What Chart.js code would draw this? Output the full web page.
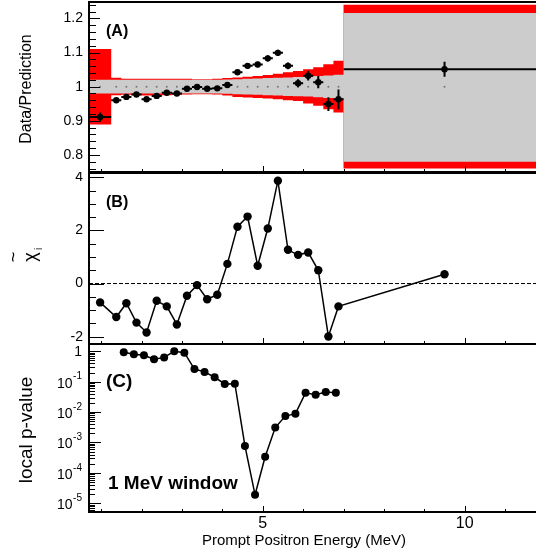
<!DOCTYPE html>
<html>
<head>
<meta charset="utf-8">
<script src="https://cdn.jsdelivr.net/npm/chart.js@4.4.1/dist/chart.umd.min.js"></script>
<style>
  html, body { margin: 0; padding: 0; background: #fff; }
  #wrap { position: relative; width: 536px; height: 558px; overflow: hidden; }
  canvas { position: absolute; left: 0; }
</style>
</head>
<body>
<div id="wrap">
  <canvas id="chartA" width="536" height="174" style="top:0px"></canvas>
  <canvas id="chartB" width="536" height="174" style="top:172px"></canvas>
  <canvas id="chartC" width="536" height="214" style="top:344px"></canvas>
</div>
<script>
// bins of the prompt energy spectrum (MeV)
const binEdges = [0.7, 1.25, 1.5, 1.75, 2.0, 2.25, 2.5, 2.75, 3.0, 3.25, 3.5, 3.75, 4.0, 4.25,
  4.5, 4.75, 5.0, 5.25, 5.5, 5.75, 6.0, 6.25, 6.5, 6.75, 7.0, 12.0];
const energyA = [0.975, 1.375, 1.625, 1.875, 2.125, 2.375, 2.625, 2.875, 3.125, 3.375, 3.625, 3.875,
  4.125, 4.375, 4.625, 4.875, 5.125, 5.375, 5.625, 5.875, 6.125, 6.375, 6.625, 6.875, 9.5];

// (A) data / prediction
const ratioA = [0.911, 0.960, 0.970, 0.977, 0.963, 0.973, 0.982, 0.980, 0.994, 0.999, 0.994, 0.995,
  1.005, 1.042, 1.061, 1.065, 1.083, 1.099, 1.061, 1.010, 1.032, 1.013, 0.949, 0.963, 1.051];
const ratioErrA = [0.013, 0.007, 0.006, 0.006, 0.006, 0.006, 0.006, 0.006, 0.006, 0.006, 0.006, 0.007,
  0.007, 0.008, 0.008, 0.008, 0.009, 0.009, 0.010, 0.012, 0.014, 0.018, 0.020, 0.029, 0.022];
const redHi = [1.110, 1.026, 1.023, 1.023, 1.023, 1.023, 1.023, 1.023, 1.023, 1.022, 1.022, 1.023,
  1.025, 1.027, 1.029, 1.031, 1.034, 1.038, 1.042, 1.046, 1.051, 1.057, 1.066, 1.076, 1.240];
const redLo = [0.889, 0.975, 0.976, 0.975, 0.974, 0.974, 0.975, 0.976, 0.977, 0.978, 0.978, 0.977,
  0.974, 0.970, 0.968, 0.967, 0.965, 0.963, 0.960, 0.958, 0.951, 0.944, 0.934, 0.924, 0.760];
const grayHi = [1.020, 1.020, 1.020, 1.020, 1.020, 1.020, 1.020, 1.020, 1.020, 1.020, 1.020, 1.020,
  1.021, 1.022, 1.023, 1.024, 1.025, 1.026, 1.027, 1.028, 1.029, 1.031, 1.033, 1.035, 1.216];
const grayLo = [0.980, 0.980, 0.980, 0.980, 0.980, 0.980, 0.980, 0.980, 0.980, 0.980, 0.980, 0.980,
  0.979, 0.978, 0.977, 0.976, 0.975, 0.974, 0.973, 0.972, 0.971, 0.969, 0.967, 0.965, 0.780];

// (B) chi tilde
const chiTilde = [-0.71, -1.26, -0.74, -1.47, -1.84, -0.65, -0.86, -1.54, -0.46, -0.06, -0.59, -0.42,
  0.74, 2.14, 2.52, 0.67, 2.07, 3.87, 1.27, 1.08, 1.17, 0.50, -1.99, -0.86, 0.35];

// (C) local p-value, 1 MeV sliding window
const energyC = [1.56, 1.81, 2.06, 2.31, 2.56, 2.81, 3.06, 3.31, 3.56, 3.81, 4.06, 4.31,
  4.56, 4.81, 5.06, 5.31, 5.56, 5.81, 6.06, 6.31, 6.56, 6.81];
const pValue = [0.93, 0.80, 0.74, 0.55, 0.63, 1.0, 0.90, 0.26, 0.21, 0.14, 0.084, 0.086,
  7.7e-4, 1.9e-5, 3.4e-4, 3.1e-3, 7.4e-3, 8.9e-3, 0.043, 0.037, 0.046, 0.043];

// ticks
const xMajorTicks = [5, 10];
const xMinorTicks = [1, 2, 3, 4, 6, 7, 8, 9, 11];
const yTicksA = [0.8, 0.9, 1, 1.1, 1.2];
const yTicksB = [-2, 0, 2, 4];
const yTicksC = [1, 1e-1, 1e-2, 1e-3, 1e-4, 1e-5];

const FONT = '"Liberation Sans", Arial, Helvetica, sans-serif';
const X_MIN = 0.7, X_MAX = 11.764;

function bandData(vals) {
  const pts = vals.map((v, i) => ({ x: binEdges[i], y: v }));
  pts.push({ x: binEdges[binEdges.length - 1], y: vals[vals.length - 1] });
  return pts;
}

function range(from, to, step) {
  const out = [];
  for (let v = from; v <= to + 1e-9; v += step) out.push(+v.toFixed(4));
  return out;
}

function logMinor() {
  const out = [];
  for (let k = -6; k <= 0; k++) for (let m = 2; m <= 9; m++) out.push(m * Math.pow(10, k));
  return out;
}

// keep the axis box from shrinking the plot area
function fixWidth(s) {
  s.width = 89;
  s.paddingTop = 0; s.paddingBottom = 0; s.paddingLeft = 0; s.paddingRight = 0;
}

// inward ROOT-style ticks, frame and free text
const panelDecor = {
  id: "panelDecor",
  afterDraw(chart, args, o) {
    if (!o || !o.yMajor) return;
    const { ctx, chartArea: a } = chart;
    const xs = chart.scales.x, ys = chart.scales.y;
    ctx.save();
    ctx.strokeStyle = "#000";
    ctx.lineWidth = 1;
    ctx.beginPath();
    const yTick = (v, len) => {
      const p = Math.round(ys.getPixelForValue(v)) + 0.5;
      if (p < a.top || p > a.bottom) return;
      ctx.moveTo(a.left, p); ctx.lineTo(a.left + len, p);
    };
    const xTick = (v, len) => {
      const p = Math.round(xs.getPixelForValue(v)) + 0.5;
      if (p < a.left || p > a.right) return;
      ctx.moveTo(p, a.bottom); ctx.lineTo(p, a.bottom - len);
    };
    o.yMajor.forEach(v => yTick(v, o.majorLen));
    o.yMinor.forEach(v => yTick(v, o.minorLen));
    xMajorTicks.forEach(v => xTick(v, 6));
    xMinorTicks.forEach(v => xTick(v, 3));
    ctx.stroke();

    ctx.lineWidth = 2;
    ctx.beginPath();
    ctx.moveTo(a.right + 2, a.top);
    ctx.lineTo(a.left, a.top);
    ctx.lineTo(a.left, a.bottom);
    ctx.lineTo(a.right + 2, a.bottom);
    ctx.stroke();

    ctx.fillStyle = "#000";
    if (o.logLabels) {
      ctx.textAlign = "right";
      ctx.textBaseline = "middle";
      yTicksC.forEach(v => {
        const p = ys.getPixelForValue(v);
        const k = Math.round(Math.log10(v));
        if (k === 0) {
          ctx.font = `14px ${FONT}`;
          ctx.fillText("1", 82, p + 1);
        } else {
          ctx.font = `10px ${FONT}`;
          const exp = String(k);
          ctx.fillText(exp, 82, p - 5);
          const w = ctx.measureText(exp).width;
          ctx.font = `14px ${FONT}`;
          ctx.fillText("10", 82 - w - 0.5, p + 2);
        }
      });
    }

    (o.texts || []).forEach(t => {
      ctx.save();
      ctx.translate(t.x, t.y);
      if (t.rot) ctx.rotate(t.rot);
      ctx.font = `${t.bold ? "bold " : ""}${t.size}px ${FONT}`;
      ctx.textAlign = t.align || "left";
      ctx.textBaseline = "middle";
      ctx.fillText(t.text, 0, 0);
      ctx.restore();
    });
    if (o.chiLabel) {
      ctx.save();
      ctx.translate(31, 85);
      ctx.rotate(-Math.PI / 2);
      ctx.textAlign = "center";
      ctx.textBaseline = "middle";
      ctx.font = `18px ${FONT}`;
      ctx.fillText("\u03c7", 0, 0);
      ctx.fillText("~", 0, -17);
      ctx.font = `10px ${FONT}`;
      ctx.fillText("i", 8, 8);
      ctx.restore();
    }
    ctx.restore();
  }
};
Chart.register(panelDecor);

function yAxis(min, max, extra) {
  return Object.assign({
    type: "linear", min, max,
    afterFit: fixWidth,
    grid: { display: false, drawTicks: false },
    border: { display: false },
    ticks: { padding: 6, color: "#000", font: { family: FONT, size: 14 } }
  }, extra);
}

function baseOptions(yScale, decor, padding, xScale) {
  return {
    responsive: false,
    animation: false,
    events: [],
    layout: { autoPadding: false, padding },
    plugins: { legend: { display: false }, tooltip: { enabled: false }, panelDecor: decor },
    scales: {
      x: xScale || { type: "linear", min: X_MIN, max: X_MAX, display: false },
      y: yScale
    }
  };
}

// ---------- (A)
const errBars = [];
energyA.forEach((e, i) => {
  const v = ratioA[i], d = ratioErrA[i];
  errBars.push({ x: e, y: v - d }, { x: e, y: v + d }, { x: e, y: null });
  errBars.push({ x: binEdges[i], y: v }, { x: binEdges[i + 1], y: v }, { x: binEdges[i + 1], y: null });
});

new Chart(document.getElementById("chartA"), {
  type: "line",
  data: {
    datasets: [
      { data: energyA.map((e, i) => ({ x: e, y: ratioA[i] })), showLine: false,
        pointRadius: 3.2, pointBackgroundColor: "#000", pointBorderWidth: 0 },
      { data: errBars, borderColor: "#000", borderWidth: 2, pointRadius: 0, spanGaps: false },
      { data: energyA.map(e => ({ x: e, y: 1 })), showLine: false,
        pointRadius: 1, pointBackgroundColor: "#777", pointBorderWidth: 0 },
      { data: bandData(grayHi), stepped: true, borderWidth: 0, borderColor: "rgba(0,0,0,0)",
        pointRadius: 0, fill: "+1", backgroundColor: "#cccccc" },
      { data: bandData(grayLo), stepped: true, borderWidth: 0, borderColor: "rgba(0,0,0,0)",
        pointRadius: 0, fill: false },
      { data: bandData(redHi), stepped: true, borderWidth: 0, borderColor: "rgba(0,0,0,0)",
        pointRadius: 0, fill: "+1", backgroundColor: "#ff0000" },
      { data: bandData(redLo), stepped: true, borderWidth: 0, borderColor: "rgba(0,0,0,0)",
        pointRadius: 0, fill: false }
    ]
  },
  options: baseOptions(
    yAxis(0.75, 1.248, {
      afterBuildTicks: s => { s.ticks = yTicksA.map(v => ({ value: v })); },
      ticks: { padding: 6, color: "#000", font: { family: FONT, size: 14 },
        callback: v => (v === 1 ? "1" : v.toFixed(1)) }
    }),
    {
      yMajor: yTicksA, yMinor: range(0.76, 1.24, 0.02), majorLen: 11, minorLen: 7,
      texts: [
        { text: "Data/Prediction", x: 27, y: 89, size: 16, rot: -Math.PI / 2, align: "center" },
        { text: "(A)", x: 106, y: 32, size: 16, bold: true }
      ]
    },
    { top: 2, bottom: 2, left: 0, right: 0 }
  )
});

// ---------- (B)
new Chart(document.getElementById("chartB"), {
  type: "line",
  data: {
    datasets: [
      { data: energyA.map((e, i) => ({ x: e, y: chiTilde[i] })), borderColor: "#000", borderWidth: 1.5,
        pointRadius: 4.2, pointBackgroundColor: "#000", pointBorderWidth: 0, tension: 0 },
      { data: [{ x: X_MIN, y: 0 }, { x: X_MAX, y: 0 }], borderColor: "#000", borderWidth: 1,
        borderDash: [4, 2], pointRadius: 0 }
    ]
  },
  options: baseOptions(
    yAxis(-2.275, 4.16, {
      afterBuildTicks: s => { s.ticks = yTicksB.map(v => ({ value: v })); }
    }),
    {
      yMajor: yTicksB, yMinor: range(-2, 4, 0.5), majorLen: 15, minorLen: 7,
      chiLabel: true,
      texts: [{ text: "(B)", x: 106, y: 31, size: 16, bold: true }]
    },
    { top: 1, bottom: 2, left: 0, right: 0 }
  )
});

// ---------- (C)
new Chart(document.getElementById("chartC"), {
  type: "line",
  data: {
    datasets: [
      { data: energyC.map((e, i) => ({ x: e, y: pValue[i] })), borderColor: "#000", borderWidth: 1.5,
        pointRadius: 4, pointBackgroundColor: "#000", pointBorderWidth: 0, tension: 0 }
    ]
  },
  options: baseOptions(
    {
      type: "logarithmic", min: 5.17e-6, max: 1.738,
      afterFit: fixWidth,
      grid: { display: false, drawTicks: false },
      border: { display: false },
      ticks: { display: false }
    },
    {
      yMajor: yTicksC, yMinor: logMinor(), majorLen: 12, minorLen: 6,
      logLabels: true,
      texts: [
        { text: "local p-value", x: 27, y: 86, size: 19, rot: -Math.PI / 2, align: "center" },
        { text: "(C)", x: 106, y: 38, size: 19, bold: true },
        { text: "1 MeV window", x: 108, y: 140, size: 19, bold: true },
        { text: "Prompt Positron Energy (MeV)", x: 304, y: 197, size: 15, align: "center" }
      ]
    },
    { top: 0, bottom: 0, left: 0, right: 0 },
    {
      type: "linear", min: X_MIN, max: X_MAX, display: true,
      afterBuildTicks: s => { s.ticks = xMajorTicks.map(v => ({ value: v })); },
      afterFit: s => { s.height = 46; s.paddingLeft = 0; s.paddingRight = 0; },
      grid: { display: false, drawTicks: false },
      border: { display: false },
      ticks: { padding: 2, color: "#000", font: { family: FONT, size: 16 }, maxRotation: 0, autoSkip: false }
    }
  )
});
</script>
</body>
</html>
